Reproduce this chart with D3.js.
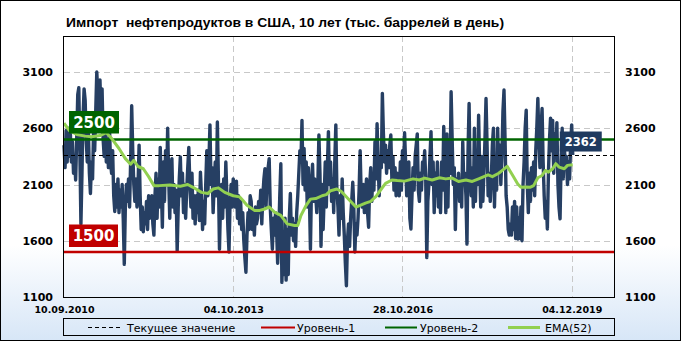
<!DOCTYPE html>
<html>
<head>
<meta charset="utf-8">
<script src="https://cdn.jsdelivr.net/npm/d3@7"></script>
<style>
body { margin: 0; background: #fff; }
svg { display: block; }
</style>
</head>
<body>
<div id="chart"></div>
<script>
'use strict'

// weekly values, thousand barrels per day
const importValues = [
	2450, 2250, 2580, 2300, 2600, 2350, 2560, 2300, 2480, 2200, 2350, 2140,
	2500, 2900, 2960, 2400, 1750, 2200,
	2700, 2950, 2850, 2500, 2300, 2600, 2200, 2020, 2300, 2150,
	2600, 2400, 2750, 3100, 2900, 2600, 3030, 2700, 2950, 2500,
	2350, 2650, 2300, 2500, 2250, 2600, 2300, 2200, 2400, 2000,
	1860, 2100, 1900, 2150, 1850, 2050, 1900, 2100, 1800, 1390, 1900,
	2100, 1950, 2150, 1900, 2300, 2800, 2400, 2100, 1950, 2150, 1900, 2100,
	2450, 2000, 1700, 1900, 1680, 1850, 1750, 1950, 1700, 2000, 1800,
	1850, 2000, 1750, 1650, 2000, 2200, 1800, 2150, 1900, 2430,
	2100, 1720, 2300, 1950, 2400, 2100, 2600, 2150, 1800, 2250,
	2330, 1900, 2100, 1850, 2050, 1510, 1900, 2150, 2345, 2000,
	2200, 1850, 2100, 1800, 2050, 2250, 2430, 2100, 1900, 2200,
	1800, 2000, 1750, 2000, 1850, 2050, 1780, 2210, 2000, 1700,
	1950, 1750, 2100, 2400, 2000, 2300, 2630, 2100, 2250, 1850,
	2100, 2300, 2000, 2655, 2150, 1525, 1950, 2100, 1800, 2150,
	1900, 2300, 2000, 1700, 1500, 1950, 2100, 1900, 2150, 2000, 1900,
	2130, 1800, 2000, 1750, 1950, 1700, 1850, 1600, 1450, 1320,
	1650, 1850, 1700, 2000, 1950, 1700, 1850, 1650, 1900, 1750,
	1800, 1950, 1850, 2050, 1750, 2000, 2150, 2240, 1900, 2150,
	2250, 2330, 1900, 1700, 1525, 1800, 1650, 1850, 1700, 1400,
	1650, 2000, 2285, 1230, 1600, 1300, 1800, 1250, 1700, 1300,
	1800, 2020, 1650, 1800, 1600, 1750, 1550, 1850, 2000, 2200,
	2400, 2300, 2670, 2100, 2420, 2050, 2300, 1900, 2250, 2000,
	1525, 2100, 2280, 1950, 2150, 2000, 1850, 2100, 2540, 2200, 1550, 2100,
	1700, 2000, 2300, 1900, 2250, 2570, 2100, 2300, 1950, 2150,
	1850, 2300, 2630, 2050, 1900, 1650, 2000, 1800, 2150, 1850,
	1650, 1400, 1200, 1600, 1750, 1550, 1800, 1950, 2120, 1900,
	1500, 1750, 1650, 1800, 2050, 2400, 2000, 1900, 2100, 1850,
	2000, 2150, 1850, 1720, 2100, 2250, 1950, 2200, 2050, 2480,
	2150, 2640, 2300, 2000, 2350, 2250, 2910, 2550, 2300, 2450,
	2200, 2400, 2250, 2450, 2540, 2150, 2350, 2050, 2250, 2000,
	2200, 2100, 2000, 2300, 2050, 2400, 2150, 2560, 2300, 2000, 2200,
	2300, 1800, 1705, 2000, 2250, 2050, 2350, 2450, 2550, 2050,
	1950, 2200, 2050, 2300, 2250, 2400, 2150, 1450, 1950, 2100,
	2350, 2570, 2100, 2300, 1850, 2200, 2000, 2300, 1900, 2150,
	1850, 2300, 2050, 2615, 2350, 1850, 2550, 1900, 2500, 2200,
	2925, 2500, 2100, 2250, 1700, 2150, 2000, 2200, 1950, 2100,
	1900, 2480, 2100, 2200, 2000, 1570, 2400, 2820, 2150, 2000,
	2250, 1900, 2600, 1950, 2300, 2100, 2715, 2250, 1900, 2350,
	1950, 2200, 2500, 2865, 2450, 2000, 2200, 1950, 2150, 2450, 2600,
	1900, 2300, 2050, 2600, 2200, 2450, 2100, 2350, 2750, 2940,
	2500, 2000, 1900, 1700, 1650, 1750, 1650, 1900, 1700, 1950,
	1620, 1900, 1615, 1800, 1620, 1900, 1600, 2100, 2300, 2600,
	2760, 2100, 1850, 2200, 1950, 2250, 2050, 2300, 2000, 2400,
	2600, 2865, 2500, 2250, 2600, 2775, 2300, 2000, 1800, 1950,
	1705, 2200, 2500, 2690, 2400, 2670, 2200, 2550, 2350, 2650,
	2100, 1900, 1795, 2300, 2600, 2150, 2450, 2250, 2350, 2100,
	2300, 2150, 2450, 2630, 2362
]

// EMA(52) at these week numbers
const emaIndex = [0, 5, 12, 20, 26, 34, 40, 45, 52, 58, 63, 66, 70, 75, 80, 85, 90, 100, 110, 117,
	122, 130, 136, 141, 146, 152, 160, 166, 169, 173, 180, 185, 189, 194, 199, 205, 211, 218, 221, 224,
	229, 233, 238, 244, 248, 252, 258, 262, 266, 270, 276, 280, 285, 290, 295, 300, 304, 310, 315, 322,
	330, 336, 341, 348, 355, 361, 367, 373, 380, 386, 392, 397, 401, 405, 411, 415, 419, 424, 429, 432,
	436, 441, 444, 448, 452, 455, 458, 462, 465, 468, 473, 476, 481]
const emaValues = [2645, 2580, 2545, 2530, 2525, 2535, 2560, 2510, 2420, 2330, 2280, 2315, 2260, 2240, 2170, 2090, 2090, 2095, 2085, 2100,
	2075, 2030, 2020, 2060, 2070, 2030, 2000, 1990, 1960, 1915, 1870, 1870, 1880, 1900, 1855, 1825, 1750, 1735, 1735, 1825,
	1915, 1970, 1975, 2000, 2010, 2045, 2060, 2040, 2000, 1960, 1900, 1915, 1935, 1950, 1995, 2060, 2110, 2140, 2135, 2130,
	2150, 2140, 2157, 2140, 2160, 2150, 2157, 2127, 2140, 2127, 2150, 2170, 2186, 2170, 2200, 2230, 2262, 2185, 2105, 2076,
	2078, 2076, 2090, 2160, 2180, 2225, 2210, 2240, 2285, 2255, 2240, 2270, 2275]

const yTicks = [1100, 1600, 2100, 2600, 3100]
const xTickIndex = [0, 160, 320, 480]
const xTickLabels = ['10.09.2010', '04.10.2013', '28.10.2016', '04.12.2019']
const level1 = 1500
const level2 = 2500
const currentValue = 2362
const legendLabels = ['Текущее значение', 'Уровень-1', 'Уровень-2', 'EMA(52)']
const titleText = 'Импорт  нефтепродуктов в США, 10 лет (тыс. баррелей в день)'


function drawChart(){
	let width = 681, height = 341
	let left = 64, right = 614, top = 36, bottom = 297

	let navy = '#263f63'
	let red = '#c00000'
	let green = '#006400'
	let emaColor = '#92d050'

	let svg = d3.select('#chart').append('svg')
		.attr('width', width)
		.attr('height', height)

	let grad = svg.append('defs').append('linearGradient')
		.attr('id', 'bg')
		.attr('x1', 0).attr('y1', 0).attr('x2', 0).attr('y2', 1)
	grad.append('stop').attr('offset', 0).attr('stop-color', '#ffffff')
	grad.append('stop').attr('offset', 0.72).attr('stop-color', '#ffffff')
	grad.append('stop').attr('offset', 1).attr('stop-color', '#d7e6f7')

	svg.append('rect')
		.attr('x', 0.5).attr('y', 0.5)
		.attr('width', width - 1).attr('height', height - 1)
		.attr('fill', 'url(#bg)')
		.attr('stroke', '#000')

	let x = d3.scaleLinear().domain([0, 520]).range([left, right])
	let y = d3.scaleLinear().domain([1100, 3420]).range([bottom, top])

	svg.append('text')
		.attr('x', 66).attr('y', 27)
		.attr('textLength', 438)
		.attr('lengthAdjust', 'spacingAndGlyphs')
		.style('font', 'bold 13px "Liberation Sans", Arial, sans-serif')
		.style('white-space', 'pre')
		.text(titleText)

	// grid
	svg.append('g').selectAll('line')
		.data(yTicks.filter(d => d > 1100))
		.join('line')
		.attr('x1', left).attr('x2', right)
		.attr('y1', d => Math.round(y(d)) + 0.5).attr('y2', d => Math.round(y(d)) + 0.5)
		.attr('stroke', '#c8c8c8')
		.attr('stroke-dasharray', '6,4')

	svg.append('g').selectAll('line')
		.data(xTickIndex.filter(d => d > 0))
		.join('line')
		.attr('x1', d => Math.round(x(d)) + 0.5).attr('x2', d => Math.round(x(d)) + 0.5)
		.attr('y1', top).attr('y2', bottom)
		.attr('stroke', '#c8c8c8')
		.attr('stroke-dasharray', '6,4')

	// axes labels
	let yLeft = svg.append('g')
		.attr('transform', 'translate(' + left + ',0)')
		.call(d3.axisLeft(y).tickValues(yTicks).tickSize(0).tickPadding(11).tickFormat(d3.format('d')))
	let yRight = svg.append('g')
		.attr('transform', 'translate(' + right + ',0)')
		.call(d3.axisRight(y).tickValues(yTicks).tickSize(0).tickPadding(11).tickFormat(d3.format('d')))
	let xAxis = svg.append('g')
		.attr('transform', 'translate(0,' + bottom + ')')
		.call(d3.axisBottom(x).tickValues(xTickIndex).tickSize(0).tickPadding(9)
			.tickFormat((d, i) => xTickLabels[i]))

	;[yLeft, yRight, xAxis].forEach(function(g){
		g.select('.domain').remove()
		g.selectAll('text')
			.attr('fill', '#000')
			.style('font-family', '"DejaVu Sans", Verdana, sans-serif')
			.style('font-weight', 'bold')
			.style('font-size', '11px')
	})
	xAxis.selectAll('text').style('font-size', '9.5px')

	// data line
	let line = d3.line()
		.x((d, i) => x(i))
		.y(d => y(d))

	svg.append('path')
		.datum(importValues)
		.attr('d', line)
		.attr('fill', 'none')
		.attr('stroke', navy)
		.attr('stroke-width', 3.4)
		.attr('stroke-linejoin', 'round')

	// levels
	svg.append('line')
		.attr('x1', left).attr('x2', right)
		.attr('y1', y(level2)).attr('y2', y(level2))
		.attr('stroke', green).attr('stroke-width', 2.5)
	svg.append('line')
		.attr('x1', left).attr('x2', right)
		.attr('y1', y(level1)).attr('y2', y(level1))
		.attr('stroke', red).attr('stroke-width', 2.5)
	svg.append('line')
		.attr('x1', left).attr('x2', right)
		.attr('y1', Math.round(y(currentValue)) + 0.5).attr('y2', Math.round(y(currentValue)) + 0.5)
		.attr('stroke', '#000').attr('stroke-dasharray', '4,3')

	// EMA
	let emaLine = d3.line()
		.x((d, i) => x(emaIndex[i]))
		.y(d => y(d))

	svg.append('path')
		.datum(emaValues)
		.attr('d', emaLine)
		.attr('fill', 'none')
		.attr('stroke', emaColor)
		.attr('stroke-width', 3)
		.attr('stroke-linejoin', 'round')

	// frame of the plot
	svg.append('rect')
		.attr('x', left - 0.5).attr('y', top + 0.5)
		.attr('width', right - left + 1).attr('height', bottom - top)
		.attr('fill', 'none')
		.attr('stroke', '#000')

	// level tags
	function tag(val, color, bx, by, w, h, size){
		svg.append('rect')
			.attr('x', bx).attr('y', by)
			.attr('width', w).attr('height', h)
			.attr('fill', color)
		svg.append('text')
			.attr('x', bx + w / 2).attr('y', by + h / 2)
			.attr('dy', '0.36em')
			.attr('text-anchor', 'middle')
			.attr('fill', '#fff')
			.style('font', 'bold ' + size + 'px "DejaVu Sans", Verdana, sans-serif')
			.text(val)
	}
	tag(level2, green, 69, y(level2) - 28.5, 50, 22.5, 15)
	tag(level1, red, 69, y(level1) - 27.5, 49, 22.5, 15)
	let last = importValues.length - 1
	tag(currentValue, '#1f3a5f', x(last) - 13, y(currentValue) - 23.5, 42, 20, 11.5)

	// legend
	let legend = svg.append('g')
	legend.append('rect')
		.attr('x', 63.5).attr('y', 318.5)
		.attr('width', 551).attr('height', 17)
		.attr('fill', 'none')
		.attr('stroke', '#000')

	let items = [
		{x1: 88, x2: 122, tx: 127, color: '#000', w: 1, dash: '4,3'},
		{x1: 261, x2: 295, tx: 297, color: red, w: 2, dash: null},
		{x1: 385, x2: 417, tx: 420, color: green, w: 2, dash: null},
		{x1: 508, x2: 540, tx: 545, color: emaColor, w: 3, dash: null}
	]
	items.forEach(function(it, i){
		legend.append('line')
			.attr('x1', it.x1).attr('x2', it.x2)
			.attr('y1', 327.5).attr('y2', 327.5)
			.attr('stroke', it.color)
			.attr('stroke-width', it.w)
			.attr('stroke-dasharray', it.dash)
		legend.append('text')
			.attr('x', it.tx).attr('y', 331.5)
			.style('font', '11px "DejaVu Sans", Verdana, sans-serif')
			.text(legendLabels[i])
	})
}

drawChart()
</script>
</body>
</html>
